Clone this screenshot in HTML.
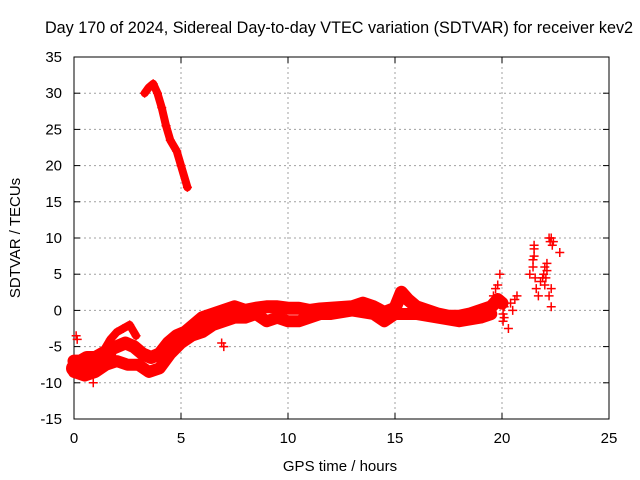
<!DOCTYPE html>
<html><head><meta charset="utf-8"><style>
body{margin:0;background:#fff}
svg{display:block;font-family:"Liberation Sans",sans-serif}
</style></head><body>
<svg id="chart" width="640" height="480" viewBox="0 0 640 480">
<rect width="640" height="480" fill="#fff"/>
<text x="339" y="33" font-size="16.2" text-anchor="middle" fill="#000">Day 170 of 2024, Sidereal Day-to-day VTEC variation (SDTVAR) for receiver kev2</text>
<g id="grid"></g>
<g id="axes"></g>
<g id="marks"></g>
<text x="340" y="471" font-size="15" text-anchor="middle">GPS time / hours</text>
<text x="20" y="238" font-size="15" text-anchor="middle" transform="rotate(-90 20 238)">SDTVAR / TECUs</text>
</svg>
<script>
const xTicks=[0,5,10,15,20,25];
const yTicks=[-15,-10,-5,0,5,10,15,20,25,30,35];
const trackMainT=[0,0.3,0.6,1,1.3,1.6,2,2.4,2.8,3.2,3.6,4,4.4,4.8,5.2,5.6,6,6.5,7,7.5,8,8.5,9,9.5,10,10.5,11,11.5,12,12.5,13,13.5,14,14.5,15,15.3,15.6,16,16.5,17,17.5,18,18.5,19,19.5,19.8,20];
const trackMainV=[-7,-7,-6.5,-6.5,-6,-5.5,-5,-4.5,-5,-6,-6.5,-6,-4.5,-3.5,-3,-2,-1,-0.5,0,0.5,0,0.3,0.5,0.5,0.3,0.3,0,0.2,0.3,0.4,0.5,1,0.5,-0.3,0.3,2.5,1.5,0.5,0,-0.5,-0.8,-0.8,-0.5,0,0.5,1.5,1];
const trackLowT=[0,0.5,1,1.5,2,2.5,3,3.5,4,4.5,5,5.5,6,6.5,7,7.5,8,8.5,9,9.5,10,10.5,11,11.5,12,13,14,14.5,15,16,17,18,19,19.5];
const trackLowV=[-8.5,-9,-8.5,-7.5,-7,-7.5,-7.5,-8.5,-8,-6,-4.5,-3.5,-3,-2,-1.5,-1,-1,-0.5,-1.5,-1,-1.5,-1.5,-1,-0.5,-0.5,0,-0.5,-1.5,-0.5,-0.5,-1,-1.5,-1,-0.5];
const trackLeftT=[0,0.4,0.8,1.2,1.6];
const trackLeftV=[-8,-8,-7.5,-7,-6];
const trackUpT=[1.3,1.7,2,2.3,2.6,2.9];
const trackUpV=[-6,-4,-3,-2.5,-2,-3.5];
const trackTopT=[3.3,3.5,3.7,3.9,4.1,4.3,4.5,4.8,5,5.3];
const trackTopV=[30,30.8,31.3,30,28,25.5,23.5,22,20,17];
const scatterT=[0.1,0.15,6.9,7.0,20.1,20.3,20.5,20.7,21.3,21.5,21.6,21.7,21.8,22,22.2,22.4,22.3,22.3,22.7,19.7,19.9,0.9,21.5,22.1,22.2,20.05,20.05,20.1,21.45,21.45,21.5,21.55,21.9,21.95,22.0,22.05,22.1,22.25,22.3,22.35,20.4,20.6,19.6,19.8];
const scatterV=[-3.5,-4,-4.5,-5,-1,-2.5,0,2,5,8.5,3,2,4,6,10,9.5,3,0.5,8,3,5,-10,9,5.5,2,-1.5,-0.5,0.5,6,7,7.5,4.5,4.5,5,3.5,4.5,6.5,9.5,10,9,1,1.5,2,3.5];
const NS='http://www.w3.org/2000/svg';
const X0=74,X1=609,Y0=419,Y1=57;
function sx(v){return X0+(v-0)/(25-0)*(X1-X0);}
function sy(v){return Y0-(v+15)/(50)*(Y0-Y1);}
function mk(tag,attrs,parent){const e=document.createElementNS(NS,tag);for(const k in attrs)e.setAttribute(k,attrs[k]);parent.appendChild(e);return e;}
const grid=document.getElementById('grid'),axes=document.getElementById('axes'),marks=document.getElementById('marks');
xTicks.forEach(t=>{
 if(t>0&&t<25){const l=mk('line',{x1:sx(t),x2:sx(t),y1:Y0,y2:Y1,stroke:'#a0a0a0','stroke-dasharray':'2,3'},grid);
 
 }
 const tx=mk('text',{x:sx(t),y:Y0+24,'font-size':15,'text-anchor':'middle'},axes);tx.textContent=t;
 
 
 mk('line',{x1:sx(t),x2:sx(t),y1:Y0,y2:Y0-6,stroke:'#000'},axes);
 mk('line',{x1:sx(t),x2:sx(t),y1:Y1,y2:Y1+6,stroke:'#000'},axes);
});
yTicks.forEach(t=>{
 if(t>-15&&t<35){const l=mk('line',{x1:X0,x2:X1,y1:sy(t),y2:sy(t),stroke:'#a0a0a0','stroke-dasharray':'2,3'},grid);
 
 }
 const tx=mk('text',{x:X0-12,y:sy(t)+5,'font-size':15,'text-anchor':'end'},axes);tx.textContent=t;
 
 
 mk('line',{x1:X0,x2:X0+6,y1:sy(t),y2:sy(t),stroke:'#000'},axes);
 mk('line',{x1:X1,x2:X1-6,y1:sy(t),y2:sy(t),stroke:'#000'},axes);
});
const fr=mk('rect',{x:X0,y:Y1,width:X1-X0,height:Y0-Y1,fill:'none',stroke:'#000'},axes);


function cross(t,v){const x=sx(t),y=sy(v);mk('path',{d:`M${x-4.5} ${y}h9M${x} ${y-4.5}v9`,stroke:'#f00','stroke-width':1.5},marks);}
function track(T,V,w,name){
 const p=mk('polyline',{points:T.map((t,i)=>sx(t)+','+sy(V[i])).join(' '),fill:'none',stroke:'#f00','stroke-width':w,'stroke-linejoin':'round','stroke-linecap':'round'},marks);
 
 
 T.forEach((t,i)=>cross(t,V[i]));
}
track(trackMainT,trackMainV,13,'track-main');
track(trackLowT,trackLowV,12,'track-low');
track(trackLeftT,trackLeftV,16,'track-left');
track(trackUpT,trackUpV,8,'track-upper');
track(trackTopT,trackTopV,8,'track-top');
scatterT.forEach((t,i)=>cross(t,scatterV[i]));
</script>
</body></html>
